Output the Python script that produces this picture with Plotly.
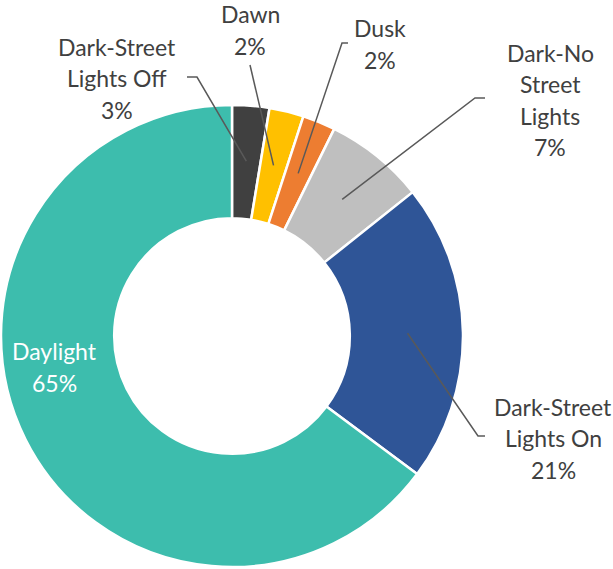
import math
import plotly.graph_objects as go

# ---- data ----
categories = ["Dark-Street Lights Off", "Dawn", "Dusk", "Dark-No Street Lights",
              "Dark-Street Lights On", "Daylight"]
label_lines = [["Dark-Street", "Lights Off", "3%"], ["Dawn", "2%"], ["Dusk", "2%"],
               ["Dark-No", "Street", "Lights", "7%"], ["Dark-Street", "Lights On", "21%"],
               ["Daylight", "65%"]]
values = [2.6, 2.4, 2.3, 7.0, 20.9, 64.8]
colors = ["#404040", "#FFC000", "#ED7D31", "#BFBFBF", "#2F5597", "#3DBDAD"]

# ---- layout config (pixels) ----
W, H = 613, 569
CX, CY, R = 232, 336, 231
HOLE = 0.51
LINE_H = 31.5
# label block centres (px) and leader-line elbow points (px)
label_pos = {0: (117, 78), 1: (250, 30), 2: (380, 44), 3: (550, 100), 4: (553, 438),
             5: (54, 367)}
label_color = {5: "white"}
elbows = {0: [(187, 77), (197, 77)], 1: [(250, 65)], 2: [(348, 43), (342, 43)],
          3: [(485, 98), (475, 98)], 4: [(485, 436), (478, 436)]}

def px(x, y):
    return x / W, 1 - y / H

fig = go.Figure(go.Pie(
    labels=categories, values=values, sort=False, direction="clockwise", rotation=0,
    hole=HOLE,
    marker=dict(colors=colors, line=dict(color="white", width=2.5)),
    textinfo="none",
    domain=dict(x=[(CX - R) / W, (CX + R) / W], y=[(H - CY - R) / H, (H - CY + R) / H]),
    hoverinfo="label+percent",
))

total = sum(values)
cum = 0
shapes, annotations = [], []
for i, v in enumerate(values):
    mid = (cum + v / 2) / total * 2 * math.pi
    cum += v
    if i in elbows:
        ex = CX + 0.76 * R * math.sin(mid)
        ey = CY - 0.76 * R * math.cos(mid)
        pts = elbows[i] + [(ex, ey)]
        path = "M " + " L ".join("%f,%f" % px(*p) for p in pts)
        shapes.append(dict(type="path", xref="paper", yref="paper", path=path,
                           line=dict(color="#595959", width=1.5)))
    bx, by = label_pos[i]
    lines = label_lines[i]
    n = len(lines)
    for k, t in enumerate(lines):
        ly = by + (k - (n - 1) / 2) * LINE_H
        x, y = px(bx, ly)
        annotations.append(dict(x=x, y=y, xref="paper", yref="paper", text=t,
                                showarrow=False, xanchor="center", yanchor="middle",
                                font=dict(family="Lato", size=23,
                                          color=label_color.get(i, "#404040"))))

fig.update_layout(width=W, height=H, margin=dict(l=0, r=0, t=0, b=0),
                  showlegend=False, paper_bgcolor="white", plot_bgcolor="white",
                  shapes=shapes, annotations=annotations)
fig.write_html("out.html", config={"displayModeBar": False},
               post_script="document.body.style.margin='0';")
